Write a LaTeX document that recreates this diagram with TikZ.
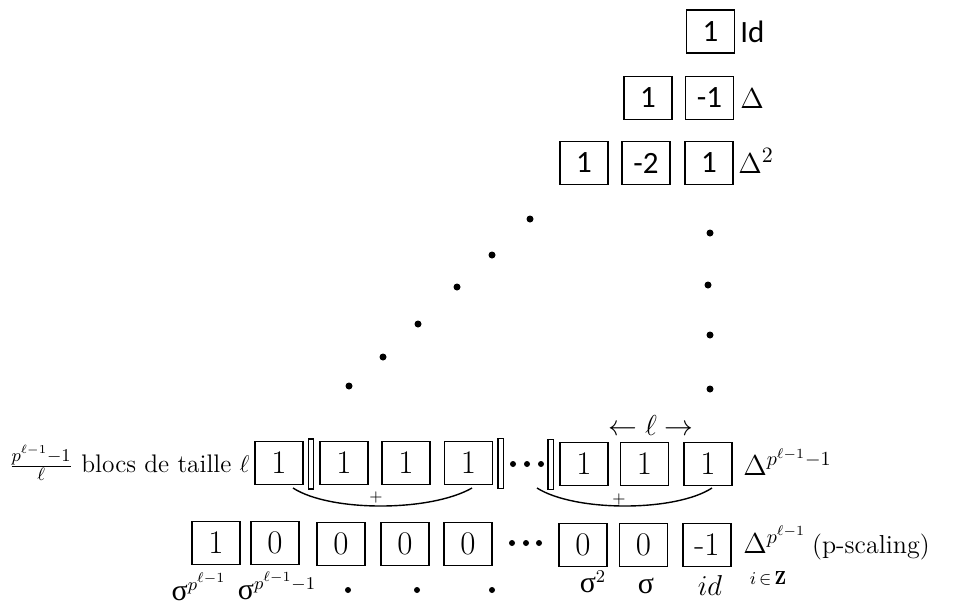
\documentclass[tikz,border=0pt]{standalone}
\usepackage{fontspec}
\newfontfamily\calib{Carlito}
\newfontfamily\grk{Liberation Serif}
\newcommand{\usig}{\mbox{\grk\fontsize{15}{15}\selectfont σ}}
\begin{document}
\begin{tikzpicture}[x=0.5pt,y=-0.5pt,
  cell/.style={draw, line width=0.7pt, minimum width=24pt, minimum height=21.5pt, inner sep=0pt, font=\fontsize{16.5}{16.5}\selectfont},
  topcell/.style={cell, font=\calib\fontsize{15.5}{15.5}\selectfont},
  bar/.style={draw, line width=0.6pt, minimum width=2.6pt, minimum height=25pt, inner sep=0pt},
  dotmark/.style={circle, fill, inner sep=0pt, minimum size=3.5pt},
  smalldot/.style={circle, fill, inner sep=0pt, minimum size=3pt},
  lbl/.style={inner sep=0pt, font=\fontsize{13.5}{14}\selectfont},
  toplbl/.style={inner sep=0pt, font=\calib\fontsize{15.5}{15.5}\selectfont},
  arcline/.style={line width=0.7pt}
]
\useasboundingbox (0,0) rectangle (958,606);
% top rows
\node[topcell] (t0) at (710.5,31.5) {1};
\node[toplbl, anchor=west] (t0l) at (740,32) {Id};
\node[topcell] (t1a) at (648,98) {1};
\node[topcell] (t1b) at (709.5,98) {-1};
\node[lbl, anchor=west, font=\fontsize{15}{15}\selectfont] (t1l) at (740,99) {$\Delta$};
\node[topcell] (t2a) at (584,163) {1};
\node[topcell] (t2b) at (646,163) {-2};
\node[topcell] (t2c) at (709,163) {1};
\node[lbl, anchor=west, font=\fontsize{15}{15}\selectfont] (t2l) at (738,161) {$\Delta^2$};
% dots
\node[dotmark] (d1) at (530,219) {};
\node[dotmark] (d2) at (492,255) {};
\node[dotmark] (d3) at (457,287) {};
\node[dotmark] (d4) at (418,324) {};
\node[dotmark] (d5) at (383,357) {};
\node[dotmark] (d6) at (349,386) {};
\node[dotmark] (e1) at (710,233) {};
\node[dotmark] (e2) at (708,285) {};
\node[dotmark] (e3) at (710,335) {};
\node[dotmark] (e4) at (710,389) {};
% row 4
\node[lbl, anchor=east, font=\fontsize{12.7}{13}\selectfont] (blocs) at (250,463) {$\frac{p^{\ell-1}-1}{\ell}$ blocs de taille $\ell$};
\node[cell] (r1) at (279,463) {1};
\node[bar] (bar1) at (311,464) {};
\node[cell] (r2) at (344,463) {1};
\node[cell] (r3) at (406,463) {1};
\node[cell] (r4) at (468.5,463) {1};
\node[bar] (bar2) at (500.5,463.5) {};
\node[smalldot] (c1) at (513,464) {};
\node[smalldot] (c2) at (527,464) {};
\node[smalldot] (c3) at (541,464) {};
\node[bar] (bar3) at (550.5,464.5) {};
\node[cell] (r5) at (584,464) {1};
\node[cell] (r6) at (644.5,464) {1};
\node[cell] (r7) at (708,464) {1};
\node[lbl, font=\fontsize{14}{14}\selectfont] (ell) at (651,425) {$\leftarrow \ell \rightarrow$};
\node[lbl, anchor=west, font=\fontsize{14}{14}\selectfont] (r4l) at (743,462) {$\Delta^{p^{\ell-1}-1}$};
% arcs
\coordinate (a1s) at (293,488);
\coordinate (a1e) at (472,488);
\coordinate (a2s) at (537,488);
\coordinate (a2e) at (712,488);
\draw[arcline] (a1s) .. controls (330,512) and (430,512) .. (a1e);
\draw[arcline] (a2s) .. controls (575,512) and (675,512) .. (a2e);
\node[inner sep=0pt, font=\fontsize{8}{8}\selectfont] (p1) at (376,497) {+};
\node[inner sep=0pt, font=\fontsize{8}{8}\selectfont] (p2) at (619,499) {+};
% row 5
\node[cell] (s1) at (216,543) {1};
\node[cell] (s2) at (275,543) {0};
\node[cell] (s3) at (341,544) {0};
\node[cell] (s4) at (405,544) {0};
\node[cell] (s5) at (468,544) {0};
\node[smalldot] (f1) at (512,543) {};
\node[smalldot] (f2) at (526,543) {};
\node[smalldot] (f3) at (539,543) {};
\node[cell] (s6) at (583,545) {0};
\node[cell] (s7) at (643.5,545) {0};
\node[cell] (s8) at (707,545) {-1};
\node[lbl, anchor=west, font=\fontsize{14}{14}\selectfont] (r5l) at (743,543) {$\Delta^{p^{\ell-1}}$\hspace{3pt}{\fontsize{13}{13}\selectfont (p-scaling)}};
% labels under row 5
\node[lbl] (g1) at (199,587) {$\usig^{p^{\ell-1}}$};
\node[lbl] (g2) at (277,586) {$\usig^{p^{\ell-1}-1}$};
\node[smalldot] (h1) at (348,590) {};
\node[smalldot] (h2) at (417,590) {};
\node[smalldot] (h3) at (492,590) {};
\node[lbl] (g3) at (593,582) {$\usig^2$};
\node[lbl] (g4) at (646,586) {$\usig$};
\node[lbl] (g5) at (710,585) {$id$};
\node[lbl] (g6) at (768,578) {$\scriptstyle i\,\in\,\mathbf{Z}$};
\end{tikzpicture}
\end{document}
